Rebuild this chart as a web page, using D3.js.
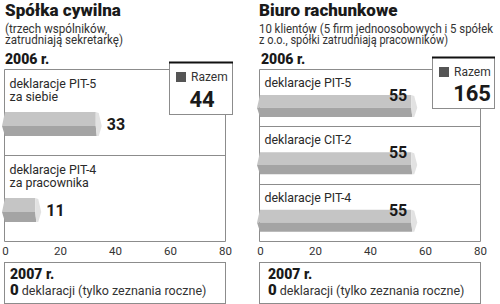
<!DOCTYPE html>
<html><head><meta charset="utf-8">
<script src="https://cdn.jsdelivr.net/npm/d3@7"></script>
<style>
html,body{margin:0;padding:0;background:#fff;}
text{font-family:Roboto,"Open Sans",sans-serif;}
</style></head>
<body><svg id="c" width="500" height="304"></svg>
<script>
// ---- data ----
const leftTitle = "Spółka cywilna";
const leftSubtitle = ["(trzech wspólników,", "zatrudniają sekretarkę)"];
const leftCategories = ["deklaracje PIT-5|za siebie", "deklaracje PIT-4|za pracownika"];
const leftValues = [33, 11];
const leftTotal = 44;

const rightTitle = "Biuro rachunkowe";
const rightSubtitle = ["10 klientów (5 firm jednoosobowych i 5 spółek", "z o.o., spółki zatrudniają pracowników)"];
const rightCategories = ["deklaracje PIT-5", "deklaracje CIT-2", "deklaracje PIT-4"];
const rightValues = [55, 55, 55];
const rightTotal = 165;

const tickValues = [0, 20, 40, 60, 80];
const yearLabel = "2006 r.";
const nextYearLabel = "2007 r.";
const nextYearCount = 0;
const nextYearNote = "deklaracji (tylko zeznania roczne)";
const legendLabel = "Razem";

// ---- drawing ----
const svg = d3.select("#c");
svg.append("rect").attr("width", 500).attr("height", 304).attr("fill", "#fff");

const frameColor = "#8c8c8c";

function panel(cfg) {
  const g = svg.append("g");
  const x = d3.scaleLinear().domain([0, 80]).range([cfg.x0, cfg.x1]);
  const y = d3.scaleBand().domain(cfg.categories).range([69, 241]);

  // title
  g.append("text").attr("x", cfg.tx).attr("y", 16).text(cfg.title)
    .attr("font-size", cfg.titleSize).attr("font-weight", 900).attr("fill", "#1a1a1a");
  // subtitle, set to the reference line widths
  cfg.subtitle.forEach((s, i) => {
    g.append("text").attr("x", cfg.sx).attr("y", 32.5 + i * 11.5)
      .text(s).attr("font-size", 12.8).attr("fill", "#333")
      .attr("textLength", cfg.subW[i]).attr("lengthAdjust", "spacingAndGlyphs");
  });

  g.append("text").attr("x", cfg.yx).attr("y", 64).text(yearLabel)
    .attr("font-size", 14).attr("font-weight", 900).attr("fill", "#1a1a1a");

  // frame
  const b = cfg.box;
  g.append("path").attr("fill", "none").attr("stroke", frameColor).attr("stroke-width", 1)
    .attr("d", `M${b.x},69.5H${cfg.x0 - 0.5}V241.5H${cfg.x1 + 0.5}V${b.y1}`);
  // separators
  cfg.categories.slice(1).forEach(c => g.append("line")
    .attr("x1", cfg.x0 - 0.5).attr("x2", cfg.x1 + 0.5)
    .attr("y1", Math.round(y(c)) + 0.5).attr("y2", Math.round(y(c)) + 0.5)
    .attr("stroke", frameColor));

  // category labels
  cfg.categories.forEach(c => {
    c.split("|").forEach((line, i) => g.append("text")
      .attr("x", cfg.x0 + 4.5).attr("y", y(c) + cfg.labelDy + i * 12.5)
      .text(line).attr("font-size", 12.4).attr("fill", "#2a2a2a"));
  });

  // bars
  const bh = cfg.barH;
  cfg.categories.forEach((c, i) => {
    const v = cfg.values[i];
    const top = y(c) + cfg.barDy, mid = top + bh * 0.58, bot = top + bh;
    const xs = x(0) - 1, xe = x(v);
    g.append("path").attr("fill", "#c5c5c5")
      .attr("d", `M${xs + 1},${top}L${xe},${top}L${xe},${mid}L${xs - 2},${mid}Z`);
    g.append("path").attr("fill", "#a4a4a4")
      .attr("d", `M${xs - 2},${mid}L${xe},${mid}L${xe + 1},${bot}L${xs + 1},${bot}Z`);
    g.append("path").attr("fill", "#e2e2e2")
      .attr("d", `M${xe},${top}L${xe + 3},${top + 1}L${xe + 6},${mid}L${xe + 3},${bot}L${xe + 1},${bot}L${xe},${mid}Z`);
    const lbl = g.append("text").text(v).attr("font-size", 16).attr("font-weight", 700).attr("fill", "#1a1a1a");
    if (cfg.inside) {
      lbl.attr("x", xe - 4).attr("y", top + 6).attr("text-anchor", "end");
    } else {
      lbl.attr("x", xe + 11).attr("y", top + bh / 2 + 6);
    }
  });

  // axis tick labels
  g.append("g").attr("transform", "translate(0,251)")
    .call(d3.axisBottom(x).tickValues(tickValues).tickSize(0).tickPadding(0))
    .call(a => a.select(".domain").remove())
    .call(a => a.selectAll("text").attr("font-size", 11.5).attr("fill", "#333")
      .attr("font-family", "Roboto,sans-serif").attr("dy", "0.32em").attr("y", 0));

  // total box
  g.append("rect").attr("x", b.x + 0.5).attr("y", b.y0 + 0.5).attr("width", b.x2 - b.x).attr("height", b.y1 - b.y0)
    .attr("fill", "#fff").attr("stroke", frameColor);
  g.append("line").attr("x1", b.x).attr("x2", b.x2 + 1).attr("y1", b.y0 + 0.5).attr("y2", b.y0 + 0.5)
    .attr("stroke", "#111").attr("stroke-width", 2.2);
  g.append("rect").attr("x", b.x + 7).attr("y", b.y0 + 10).attr("width", 10).attr("height", 10).attr("fill", "#555");
  g.append("text").attr("x", b.x + 22).attr("y", b.y0 + 19).text(legendLabel)
    .attr("font-size", 12).attr("fill", "#333");
  g.append("text").attr("x", cfg.totalX).attr("y", cfg.totalY).text(cfg.total)
    .attr("text-anchor", cfg.totalAnchor).attr("font-size", 22).attr("font-weight", 700).attr("fill", "#1a1a1a");

  // 2007 box
  g.append("rect").attr("x", cfg.x0 - 0.5).attr("y", 262.5).attr("width", cfg.x1 - cfg.x0 + 1).attr("height", 41)
    .attr("fill", "#fff").attr("stroke", frameColor);
  g.append("text").attr("x", cfg.nx).attr("y", 278.5).text(nextYearLabel)
    .attr("font-size", 14).attr("font-weight", 900).attr("fill", "#1a1a1a");
  const t = g.append("text").attr("x", cfg.nx).attr("y", 295);
  t.append("tspan").text(nextYearCount).attr("font-size", 15).attr("font-weight", 900).attr("fill", "#1a1a1a");
  t.append("tspan").text(" " + nextYearNote).attr("font-size", 12.5).attr("fill", "#333");
}

panel({
  title: leftTitle, subtitle: leftSubtitle, categories: leftCategories, values: leftValues, total: leftTotal,
  x0: 5, x1: 225, tx: 5, sx: 5, yx: 5, nx: 10, titleSize: 17, subW: [102, 118],
  box: { x: 169, x2: 232, y0: 62, y1: 114 }, totalX: 202, totalY: 107, totalAnchor: "middle",
  labelDy: 19, barDy: 43, barH: 24, inside: false
});
panel({
  title: rightTitle, subtitle: rightSubtitle, categories: rightCategories, values: rightValues, total: rightTotal,
  x0: 260, x1: 480, tx: 259, sx: 259, yx: 261, nx: 268, titleSize: 17, subW: [234, 189],
  box: { x: 432, x2: 494, y0: 57, y1: 108 }, totalX: 491, totalY: 101, totalAnchor: "end",
  labelDy: 18, barDy: 26, barH: 22, inside: true
});
</script></body></html>
